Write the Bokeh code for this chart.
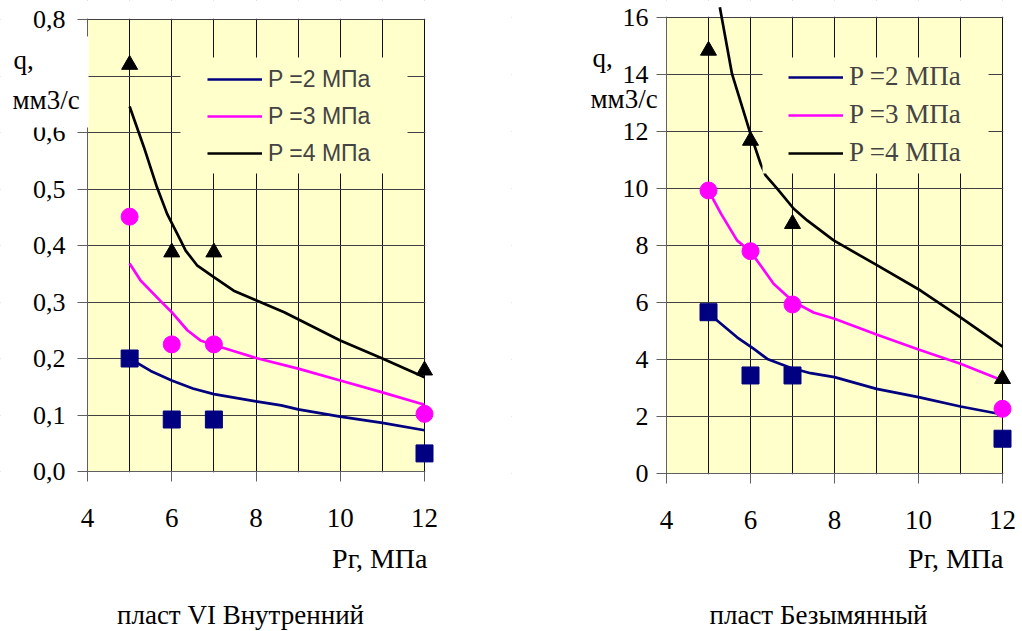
from bokeh.plotting import figure
from bokeh.layouts import row
from bokeh.models import (Range1d, FixedTicker, CustomJSTickFormatter, Label,
                          BoxAnnotation, Legend, LegendItem, LinearAxis, Grid)
from bokeh.embed import file_html
from bokeh.resources import INLINE

SERIF = "Liberation Serif"
SANS = "Liberation Sans"
NAVY = "#000080"
MAGENTA = "#FF00FF"
BLACK = "#000000"
YELLOW = "#FFFFCC"

# ---------------- data ----------------
legend_labels = ["P =2 МПа", "P =3 МПа", "P =4 МПа"]
x_ticks = [4, 6, 8, 10, 12]
x_grid = [4, 5, 6, 7, 8, 9, 10, 11, 12]
x_title = "Рг, МПа"
y_title = ["q,", "мм3/с"]

# Left chart: пласт VI Внутренний
left_title = "пласт VI Внутренний"
left_y_ticks = [0.0, 0.1, 0.2, 0.3, 0.4, 0.5, 0.6, 0.7, 0.8]
left_pts_x = [5, 6, 7, 12]
left_sq_y = [0.200, 0.092, 0.092, 0.032]
left_ci_y = [0.451, 0.225, 0.225, 0.102]
left_tr_y = [0.720, 0.388, 0.388, 0.179]
left_p2_x = [5, 5.5, 6, 6.5, 7, 8, 8.6, 9, 10, 11, 12]
left_p2_y = [0.200, 0.178, 0.161, 0.147, 0.137, 0.124, 0.117, 0.110, 0.097, 0.086, 0.073]
left_p3_x = [5, 5.26, 5.73, 6, 6.37, 6.68, 7, 8, 9, 10, 11, 12]
left_p3_y = [0.368, 0.338, 0.302, 0.282, 0.250, 0.232, 0.224, 0.201, 0.182, 0.161, 0.140, 0.118]
left_p4_x = [5, 5.34, 5.65, 5.89, 6.21, 6.33, 6.6, 7, 7.47, 8, 8.67, 10, 11, 12]
left_p4_y = [0.646, 0.574, 0.503, 0.456, 0.409, 0.391, 0.365, 0.344, 0.320, 0.303, 0.282, 0.232, 0.200, 0.167]

# Right chart: пласт Безымянный
right_title = "пласт Безымянный"
right_y_ticks = [0, 2, 4, 6, 8, 10, 12, 14, 16]
right_pts_x = [5, 6, 7, 12]
right_sq_y = [5.66, 3.44, 3.44, 1.22]
right_ci_y = [9.93, 7.80, 5.93, 2.27]
right_tr_y = [14.84, 11.68, 8.76, 3.32]
right_p2_x = [5, 5.68, 6.08, 6.4, 6.95, 7.43, 8, 9, 10, 11, 12]
right_p2_y = [5.62, 4.78, 4.37, 4.02, 3.71, 3.52, 3.38, 2.97, 2.68, 2.35, 2.07]
right_p3_x = [5, 5.3, 5.68, 6, 6.25, 6.55, 7, 7.5, 8, 9, 10, 11, 12]
right_p3_y = [9.93, 9.11, 8.18, 7.78, 7.28, 6.66, 6.05, 5.65, 5.43, 4.88, 4.35, 3.85, 3.26]
right_p4_x = [5.27, 5.56, 6.0, 6.24, 6.36, 6.64, 7.03, 7.35, 7.98, 9.02, 10.05, 11.0, 12.0]
right_p4_y = [16.36, 14.02, 11.92, 10.87, 10.46, 9.99, 9.29, 8.88, 8.18, 7.30, 6.42, 5.48, 4.45]

W, H = 511, 631


def make_chart(frame_px, y_ticks, fmt, y_standoff, pts_x, sq_y, ci_y, tr_y, lines,
               legend_px, legend_font, legend_size, cover_px, white_px, texts):
    x0, x1, yt, yb = frame_px
    ymax = y_ticks[-1]
    xs = 8.0 / (x1 - x0)
    ys = ymax / (yb - yt)

    def X(px):
        return 4 + (px - x0) * xs

    def Y(py):
        return (yb - py) * ys

    p = figure(width=W, height=H, x_range=Range1d(X(0), X(W)),
               y_range=Range1d(Y(H), Y(0)), output_backend="svg",
               toolbar_location=None, min_border=0,
               x_axis_location=None, y_axis_location=None,
               background_fill_color="white", border_fill_color="white",
               outline_line_color=None)
    p.title.visible = False
    p.xgrid.visible = False
    p.ygrid.visible = False

    # plot area fill
    p.add_layout(BoxAnnotation(left=4, right=12, bottom=0, top=ymax,
                               fill_color=YELLOW, fill_alpha=1.0,
                               line_color=None, level="image"))
    # grids
    p.add_layout(Grid(dimension=0, ticker=FixedTicker(ticks=x_grid),
                      grid_line_color="#111111", grid_line_width=1))
    p.add_layout(Grid(dimension=1, ticker=FixedTicker(ticks=y_ticks),
                      grid_line_color="#404040", grid_line_width=1))
    # white covers restricting grid lines to the plot area
    e = 0.7
    for l, r, b, t in [(X(-5), X(x0 - e), Y(H + 5), Y(-5)),
                       (X(x1 + e), X(W + 5), Y(H + 5), Y(-5)),
                       (X(-5), X(W + 5), Y(yt - e), Y(-5)),
                       (X(-5), X(W + 5), Y(H + 5), Y(yb + e))]:
        p.add_layout(BoxAnnotation(left=l, right=r, bottom=b, top=t,
                                   fill_color="white", fill_alpha=1.0,
                                   line_color=None, level="underlay"))
    # axes
    xax = LinearAxis(ticker=FixedTicker(ticks=x_ticks), fixed_location=0,
                     bounds=(4, 12), axis_line_color="#606060",
                     major_tick_line_color="#606060", minor_tick_line_color=None,
                     major_tick_in=0, major_tick_out=10, major_label_standoff=27,
                     major_label_text_font=SERIF, major_label_text_font_size="27px",
                     major_label_text_color="black")
    yax = LinearAxis(ticker=FixedTicker(ticks=y_ticks), fixed_location=4,
                     bounds=(0, ymax), formatter=CustomJSTickFormatter(code=fmt),
                     axis_line_color="#606060",
                     major_tick_line_color="#606060", minor_tick_line_color=None,
                     major_tick_in=0, major_tick_out=10, major_label_standoff=y_standoff,
                     major_label_text_font=SERIF, major_label_text_font_size="26px",
                     major_label_text_color="black")
    p.add_layout(xax, "below")
    p.add_layout(yax, "left")

    cols = [NAVY, MAGENTA, BLACK]
    rends = []
    for (lx, ly), c in zip(lines, cols):
        rends.append(p.line(lx, ly, line_color=c, line_width=2.7))
    p.scatter(pts_x, sq_y, marker="square", size=17, fill_color=NAVY, line_color=NAVY)
    p.scatter(pts_x, ci_y, marker="circle", size=17, fill_color=MAGENTA, line_color=MAGENTA)
    p.scatter(pts_x, tr_y, marker="triangle", size=16, fill_color=BLACK, line_color=BLACK)

    # legend cover box
    cl, cr, ct, cb = cover_px
    p.add_layout(BoxAnnotation(left=X(cl), right=X(cr), bottom=Y(cb), top=Y(ct),
                               fill_color=YELLOW, fill_alpha=1.0, line_color=None))
    # white box behind the y title (covers the axis there)
    if white_px is not None:
        wl, wr, wt, wb = white_px
        p.add_layout(BoxAnnotation(left=X(wl), right=X(wr), bottom=Y(wb), top=Y(wt),
                                   fill_color="white", fill_alpha=1.0, line_color=None))
    lx, lb = legend_px
    leg = Legend(items=[LegendItem(label=t, renderers=[r]) for t, r in zip(legend_labels, rends)],
                 location=(lx, H - lb), background_fill_alpha=0, border_line_color=None,
                 padding=0, margin=0, spacing=7, glyph_width=55, glyph_height=30,
                 label_height=30, label_standoff=6, label_text_font=legend_font,
                 label_text_font_size=legend_size)
    p.add_layout(leg)
    for txt, px, py, al, fs in texts:
        p.add_layout(Label(x=X(px), y=Y(py), text=txt, text_font=SERIF,
                           text_font_size=fs, text_align=al,
                           text_baseline="alphabetic", text_color="black"))
    return p


pL = make_chart((87, 424, 19, 471), left_y_ticks,
                "return tick.toFixed(1).replace('.', ',');", 12,
                left_pts_x, left_sq_y, left_ci_y, left_tr_y,
                [(left_p2_x, left_p2_y), (left_p3_x, left_p3_y), (left_p4_x, left_p4_y)],
                (207, 168), SANS, "23px", (180, 407, 57, 173), (8, 88, 36, 127),
                [(y_title[0], 13, 59, "left", "27px"), (y_title[1], 12, 99, "left", "27px"),
                 (x_title, 427, 558, "right", "28px"),
                 (left_title, 240, 614, "center", "27px")])

pR = make_chart((155, 491, 17, 473), right_y_ticks, "return tick.toFixed(0);", 8,
                right_pts_x, right_sq_y, right_ci_y, right_tr_y,
                [(right_p2_x, right_p2_y), (right_p3_x, right_p3_y), (right_p4_x, right_p4_y)],
                (277, 168), SERIF, "27px", (251, 477, 57, 173), None,
                [(y_title[0], 81, 57, "left", "27px"), (y_title[1], 79, 98, "left", "27px"),
                 (x_title, 492, 558, "right", "28px"),
                 (right_title, 307, 614, "center", "27px")])

layout = row(pL, pR)
open("out.html", "w").write(file_html(layout, INLINE))
